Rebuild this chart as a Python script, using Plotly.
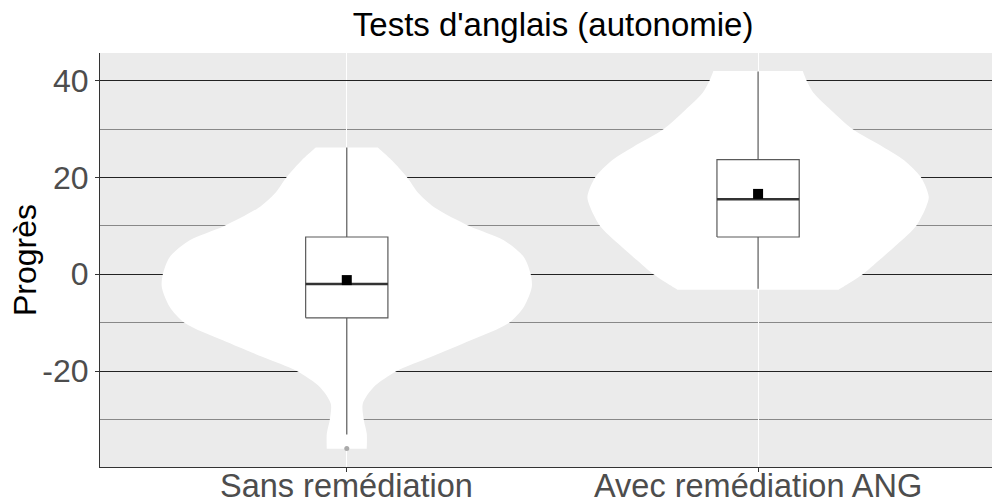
import plotly.graph_objects as go

# ---- data ----
categories = ["Sans remédiation", "Avec remédiation ANG"]
cat_pos = [1, 2]
y_tickvals = [-20, 0, 20, 40]
y_ticktext = ["-20", "0", "20", "40"]

# violin profiles: y values and half-widths (pixels at 411.3 px per category step)
v1_y = [26.17, 23.55, 20.11, 16.67, 13.91, 9.92, 7.02, 3.58, -0.07, -2.62,
        -6.75, -10.06, -13.64, -17.09, -19.97, -23.28, -26.72, -30.03, -32.92, -36.02]
v1_hw_px = [31, 45, 60, 72, 87, 123, 157, 177, 184, 185,
            177, 162, 124, 84, 50, 27, 16, 17, 20, 20]
v2_y = [42.0, 39.94, 37.33, 33.88, 29.89, 26.31, 23.55, 19.97, 15.98, 13.91,
        9.99, 6.34, 2.89, 0.0, -3.17]
v2_hw_px = [44.7, 48.7, 56, 73, 95, 125, 146, 163, 170.7, 168,
            158, 140, 121, 104.7, 80.7]
px_per_unit = 411.3
v1_hw = [w / px_per_unit for w in v1_hw_px]
v2_hw = [w / px_per_unit for w in v2_hw_px]

# box statistics
q1 = [-9.0, 7.7]
median = [-2.0, 15.5]
q3 = [7.7, 23.7]
lowerfence = [-33.1, -3.0]
upperfence = [26.2, 41.9]
means = [-1.2, 16.6]
outliers_x = [1]
outliers_y = [-36.0]

box_width = 0.2
box_line = "#5a5a5a"

fig = go.Figure()

for pos, ys, hws in [(1, v1_y, v1_hw), (2, v2_y, v2_hw)]:
    # repeat the end points so the flat (trimmed) top and bottom keep sharp corners
    ys_e = [ys[0]] + list(ys) + [ys[-1]]
    hws_e = [hws[0]] + list(hws) + [hws[-1]]
    xs = [pos - w for w in hws_e] + [pos + w for w in reversed(hws_e)]
    yy = ys_e + list(reversed(ys_e))
    fig.add_trace(go.Scatter(x=xs, y=yy, fill="toself", fillcolor="white",
                             line=dict(color="white", width=0, shape="spline", smoothing=0.8),
                             mode="lines", hoverinfo="skip", showlegend=False))

for i, pos in enumerate(cat_pos):
    h = box_width / 2
    # whiskers
    fig.add_trace(go.Scatter(x=[pos, pos, None, pos, pos],
                             y=[q3[i], upperfence[i], None, q1[i], lowerfence[i]],
                             mode="lines", line=dict(color=box_line, width=1.2),
                             showlegend=False, hoverinfo="skip"))
    # box
    fig.add_trace(go.Scatter(x=[pos - h, pos + h, pos + h, pos - h, pos - h],
                             y=[q1[i], q1[i], q3[i], q3[i], q1[i]],
                             mode="lines", fill="toself", fillcolor="white",
                             line=dict(color=box_line, width=1.2),
                             showlegend=False, hoverinfo="skip"))
    # median
    fig.add_trace(go.Scatter(x=[pos - h, pos + h], y=[median[i], median[i]],
                             mode="lines", line=dict(color="#333333", width=2.4),
                             showlegend=False, hoverinfo="skip"))

fig.add_trace(go.Scatter(x=outliers_x, y=outliers_y, mode="markers",
                         marker=dict(color="#AAAAAA", size=5), showlegend=False))

fig.add_trace(go.Scatter(x=cat_pos, y=means, mode="markers",
                         marker=dict(color="black", size=10, symbol="square"),
                         showlegend=False))

font = "Liberation Sans, Arial, sans-serif"
fig.update_layout(
    width=992, height=499,
    margin=dict(l=100, r=0, t=53, b=32),
    paper_bgcolor="white", plot_bgcolor="#EBEBEB",
    title=dict(text="Tests d'anglais (autonomie)", x=0.508, xref="paper",
               xanchor="center", y=1 - 24 / 499, yref="container", yanchor="middle",
               font=dict(family=font, size=33, color="black")),
    font=dict(family=font),
    xaxis=dict(range=[0.4, 0.4 + 892 / px_per_unit], tickvals=cat_pos, ticktext=categories,
               showticklabels=False, automargin=False,
               showgrid=True, gridcolor="white", gridwidth=1, zeroline=False,
               showline=True, linecolor="#333333", linewidth=1.2,
               ticks="outside", ticklen=4, tickcolor="#333333"),
    yaxis=dict(range=[-39.8, 45.7], tickvals=y_tickvals, ticktext=y_ticktext,
               automargin=False,
               showgrid=True, gridcolor="#222222", gridwidth=1.2, zeroline=False,
               showline=True, linecolor="#333333", linewidth=1.2,
               ticks="outside", ticklen=4, tickcolor="#333333",
               tickfont=dict(size=32, color="#4D4D4D"),
               minor=dict(tickvals=[-30, -10, 10, 30], showgrid=True,
                          gridcolor="#888888", gridwidth=1)),
)

# y-axis title
fig.add_annotation(x=(25 - 100) / 892, xref="paper", y=0.5, yref="paper",
                   text="Progrès", textangle=-90, showarrow=False,
                   xanchor="center", yanchor="middle",
                   font=dict(family=font, size=32, color="black"))

for pos, lab in zip(cat_pos, categories):
    fig.add_annotation(x=pos, xref="x", y=0, yref="paper", yanchor="top", yshift=1,
                       text=lab, showarrow=False, xanchor="center",
                       font=dict(family=font, size=32.5, color="#4D4D4D"))

fig.write_html("out.html", config={"displayModeBar": False},
               post_script="document.body.style.margin='0';document.body.style.overflow='hidden';")
